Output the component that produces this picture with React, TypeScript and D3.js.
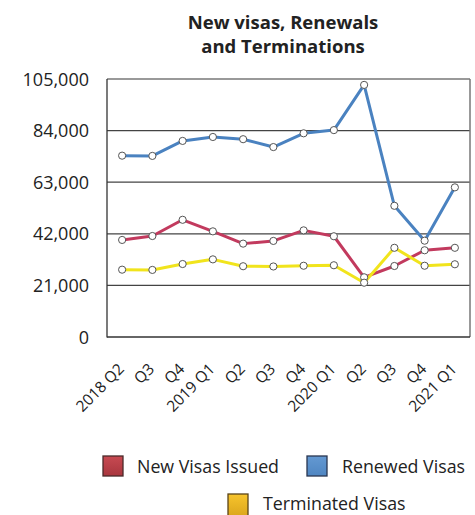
import React from "react";
import * as d3 from "d3";

const categories = ["2018 Q2", "Q3", "Q4", "2019 Q1", "Q2", "Q3", "Q4", "2020 Q1", "Q2", "Q3", "Q4", "2021 Q1"];
const newVisas = [39500, 41100, 47700, 43000, 38000, 39100, 43400, 41000, 24300, 28900, 35300, 36300];
const renewedVisas = [73800, 73700, 79800, 81400, 80500, 77300, 82900, 84200, 102600, 53400, 39200, 60900];
const terminatedVisas = [27400, 27300, 29700, 31600, 28800, 28700, 29000, 29200, 22100, 36300, 29000, 29600];
const yTicks = [0, 21000, 42000, 63000, 84000, 105000];

const FONT = "'Open Sans', 'Noto Sans', sans-serif";

const series = [
  { name: "New Visas Issued", values: newVisas, color: "#c23a5e" },
  { name: "Renewed Visas", values: renewedVisas, color: "#4a82c0" },
  { name: "Terminated Visas", values: terminatedVisas, color: "#f1e41c" },
];

export default function App() {
  const W = 475, H = 515;
  const left = 107, right = 470, top = 79, bottom = 337;
  const x = d3.scalePoint<string>().domain(categories.map((c, i) => i + "")).range([left, right]).padding(0.5);
  const y = d3.scaleLinear().domain([0, 105000]).range([bottom, top]);
  const line = d3.line<number>().x((_, i) => x(i + "") as number).y((d) => y(d));
  const fmt = d3.format(",");

  return (
    <svg width={W} height={H} style={{ position: "absolute", left: 0, top: 0 }}>
      <defs>
        <linearGradient id="gRed" x1="0" y1="0" x2="0" y2="1">
          <stop offset="0" stopColor="#c84a52" />
          <stop offset="1" stopColor="#a8363e" />
        </linearGradient>
        <linearGradient id="gBlue" x1="0" y1="0" x2="0" y2="1">
          <stop offset="0" stopColor="#6499d2" />
          <stop offset="1" stopColor="#4f86c2" />
        </linearGradient>
        <linearGradient id="gYel" x1="0" y1="0" x2="0" y2="1">
          <stop offset="0" stopColor="#f7c42c" />
          <stop offset="1" stopColor="#d9a41c" />
        </linearGradient>
      </defs>
      <rect width={W} height={H} fill="#fff" />
      <text x={283} y={29} textAnchor="middle" fontFamily={FONT} fontWeight={700} fontSize={18.5} fill="#222">
        New visas, Renewals
      </text>
      <text x={283} y={53} textAnchor="middle" fontFamily={FONT} fontWeight={700} fontSize={18.5} fill="#222">
        and Terminations
      </text>

      {yTicks.map((t) => (
        <g key={t}>
          {t > 0 && t < 105000 && (
            <line x1={left} x2={right} y1={y(t)} y2={y(t)} stroke="#444" strokeWidth={1.2} />
          )}
          <text x={89} y={y(t) + 6.5} textAnchor="end" fontFamily={FONT} fontSize={18} fill="#222">
            {fmt(t)}
          </text>
        </g>
      ))}
      <line x1={left} x2={right} y1={top} y2={top} stroke="#777" strokeWidth={1.5} />
      <line x1={right} x2={right} y1={top} y2={bottom} stroke="#777" strokeWidth={1.5} />
      <line x1={left} x2={left} y1={top} y2={bottom + 0.5} stroke="#333" strokeWidth={1.3} />
      <line x1={left} x2={right} y1={bottom} y2={bottom} stroke="#333" strokeWidth={1.3} />

      {series.map((s) => (
        <path key={s.name} d={line(s.values) || ""} fill="none" stroke={s.color} strokeWidth={3} strokeLinejoin="round" />
      ))}
      {series.map((s) =>
        s.values.map((v, i) => (
          <circle key={s.name + i} cx={x(i + "")} cy={y(v)} r={3.6} fill="#fff" stroke="#555" strokeWidth={1} />
        ))
      )}

      {categories.map((c, i) => {
        const px = (x(i + "") as number) + 3;
        const py = 370;
        return (
          <text key={i} x={px} y={py} textAnchor="end" fontFamily={FONT} fontSize={15.5} fill="#222"
            transform={`rotate(-45 ${px} ${py})`}>
            {c}
          </text>
        );
      })}

      <rect x={103} y={456} width={20} height={20} fill="url(#gRed)" stroke="#4a2a2a" strokeWidth={1.3} />
      <text x={137} y={473} fontFamily={FONT} fontSize={17.8} fill="#222">New Visas Issued</text>
      <rect x={307} y={456} width={20} height={20} fill="url(#gBlue)" stroke="#2a3650" strokeWidth={1.3} />
      <text x={342} y={473} fontFamily={FONT} fontSize={17.8} fill="#222">Renewed Visas</text>
      <rect x={228} y={494} width={20} height={24} fill="url(#gYel)" stroke="#5a4418" strokeWidth={1.3} />
      <text x={263} y={510} fontFamily={FONT} fontSize={17.8} fill="#222">Terminated Visas</text>
    </svg>
  );
}
